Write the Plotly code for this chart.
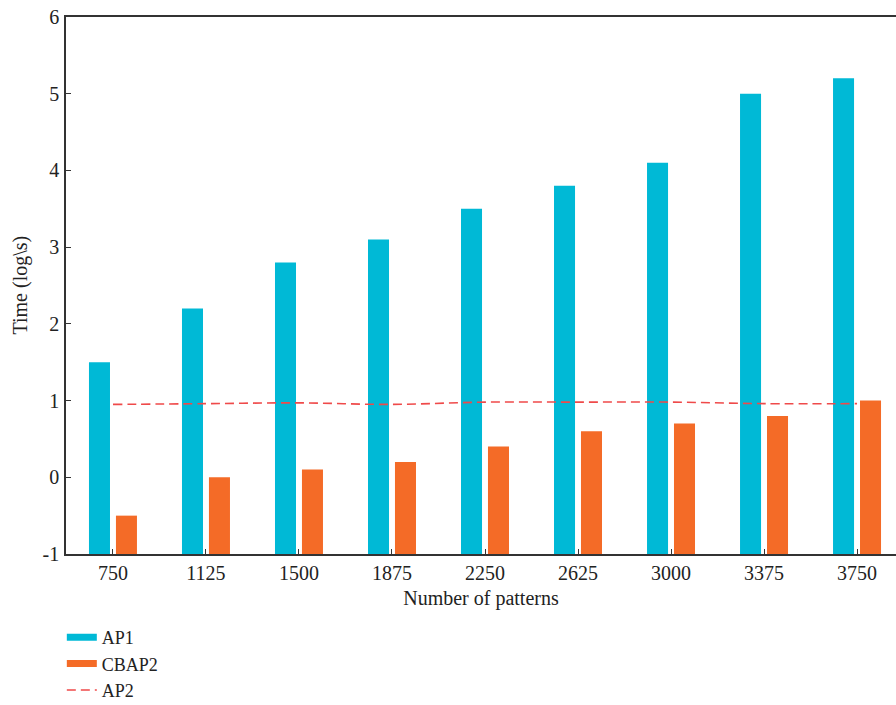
import plotly.graph_objects as go

categories = ["750", "1125", "1500", "1875", "2250", "2625", "3000", "3375", "3750"]
ap1 = [1.5, 2.2, 2.8, 3.1, 3.5, 3.8, 4.1, 5.0, 5.2]
cbap2 = [-0.5, 0.0, 0.1, 0.2, 0.4, 0.6, 0.7, 0.8, 1.0]
ap2 = [0.95, 0.96, 0.97, 0.95, 0.98, 0.98, 0.98, 0.96, 0.96]

y_base = -1
idx = list(range(len(categories)))
CYAN = "#00B9D6"
ORANGE = "#F46B27"
RED = "#EF4A4A"
FONT = "Liberation Serif"
TXT = "#222222"
FS = 20

fig = go.Figure()
fig.add_trace(go.Bar(x=idx, y=[v - y_base for v in ap1], base=y_base, width=0.226,
                     offset=-0.258, marker=dict(color=CYAN, line=dict(width=0)),
                     name="AP1", showlegend=False))
fig.add_trace(go.Bar(x=idx, y=[v - y_base for v in cbap2], base=y_base, width=0.226,
                     offset=0.032, marker=dict(color=ORANGE, line=dict(width=0)),
                     name="CBAP2", showlegend=False))
fig.add_trace(go.Scatter(x=idx, y=ap2, mode="lines", name="AP2", showlegend=False,
                         line=dict(color=RED, width=1.6, dash="9px,5px", shape="spline")))
# legend entries
fig.add_trace(go.Scatter(x=[None], y=[None], mode="lines", name="AP1",
                         line=dict(color=CYAN, width=7)))
fig.add_trace(go.Scatter(x=[None], y=[None], mode="lines", name="CBAP2",
                         line=dict(color=ORANGE, width=7)))
fig.add_trace(go.Scatter(x=[None], y=[None], mode="lines", name="AP2",
                         line=dict(color=RED, width=1.6, dash="9px,5px")))

fig.update_layout(
    width=896, height=705,
    margin=dict(l=66, r=0, t=17, b=151, autoexpand=False),
    paper_bgcolor="white", plot_bgcolor="white",
    font=dict(family=FONT, size=FS, color=TXT),
    showlegend=True,
    legend=dict(x=0.069, y=0.122, xref="container", yref="container",
                xanchor="left", yanchor="top",
                font=dict(family=FONT, size=18, color=TXT),
                bgcolor="rgba(0,0,0,0)", tracegroupgap=0),
    xaxis=dict(range=[-0.505, 8.419], tickmode="array", tickvals=idx, ticktext=categories,
               automargin=True,
               showline=True, linecolor="#333333", linewidth=1.5, mirror=True,
               ticks="inside", ticklen=5, tickcolor="#333333", tickwidth=1,
               showgrid=False, zeroline=False,
               tickfont=dict(family=FONT, size=FS, color=TXT),
               ticklabelstandoff=0,
               title=dict(text="Number of patterns", standoff=8,
                          font=dict(family=FONT, size=FS, color=TXT))),
    yaxis=dict(range=[-1, 6], tickmode="array", tickvals=[-1, 0, 1, 2, 3, 4, 5, 6],
               ticktext=["-1", "0", "1", "2", "3", "4", "5", "6"],
               automargin=False,
               showline=True, linecolor="#333333", linewidth=1.5,
               ticks="inside", ticklen=5, tickcolor="#333333", tickwidth=1,
               showgrid=False, zeroline=False,
               tickfont=dict(family=FONT, size=FS, color=TXT),
               ticklabelstandoff=1),
    annotations=[dict(text="Time (log\\s)", xref="paper", yref="paper",
                      x=-0.0554, y=0.5, xanchor="center", yanchor="middle",
                      textangle=-90, showarrow=False,
                      font=dict(family=FONT, size=FS, color=TXT))],
)

fig.write_html("out.html")
